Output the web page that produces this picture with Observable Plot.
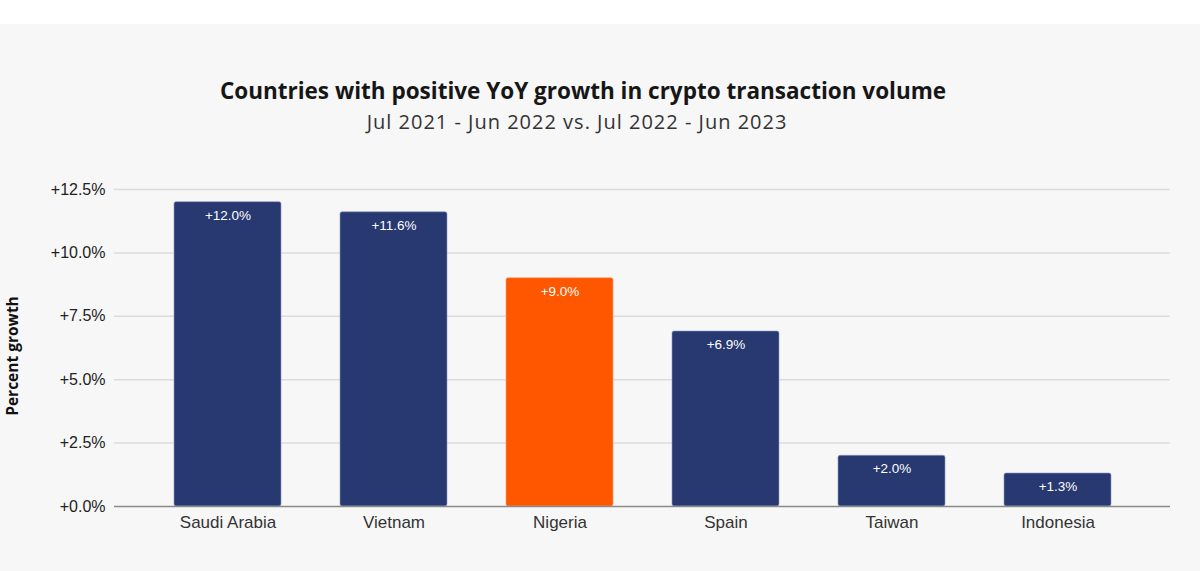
<!DOCTYPE html>
<html>
<head>
<meta charset="utf-8">
<script src="https://cdn.jsdelivr.net/npm/d3@7"></script>
<script src="https://cdn.jsdelivr.net/npm/@observablehq/plot@0.6"></script>
<style>
  html, body { margin: 0; padding: 0; background: #ffffff; }
  #top { height: 24px; background: #ffffff; }
  #panel { background: #f7f7f7; width: 1200px; height: 547px; position: relative; overflow: hidden; }
  #title { position: absolute; left: -17px; width: 1200px; top: 53px; text-align: center;
           font-family: "Open Sans", Lato, sans-serif; font-weight: 700; font-size: 22.5px; color: #161616; line-height: 28px; }
  #subtitle { position: absolute; left: -23px; width: 1200px; top: 85px; text-align: center;
           font-family: "Open Sans", Lato, sans-serif; font-weight: 400; font-size: 20px; letter-spacing: 1px; color: #333; line-height: 26px; }
  #chart { position: absolute; left: 0; top: 126px; }
</style>
</head>
<body>
<div id="top"></div>
<div id="panel">
  <div id="title">Countries with positive YoY growth in crypto transaction volume</div>
  <div id="subtitle">Jul 2021 - Jun 2022 vs. Jul 2022 - Jun 2023</div>
  <div id="chart"></div>
</div>
<script>
const countries = ["Saudi Arabia", "Vietnam", "Nigeria", "Spain", "Taiwan", "Indonesia"];
const growth = [12.0, 11.6, 9.0, 6.9, 2.0, 1.3];
const highlight = ["Nigeria"];
const yTicks = [0, 2.5, 5, 7.5, 10, 12.5];

const data = countries.map((c, i) => ({country: c, value: growth[i]}));
const fmt = v => "+" + v.toFixed(1) + "%";

const chart = Plot.plot({
  width: 1200,
  height: 400,
  marginLeft: 114,
  marginRight: 30,
  marginTop: 39,
  marginBottom: 44,
  style: {background: "transparent", fontFamily: "'Liberation Sans', Arial, sans-serif"},
  x: {domain: countries, padding: 0.357, label: null},
  y: {domain: [0, 12.5], label: null},
  marks: [
    Plot.gridY(yTicks.filter(d => d > 0), {stroke: "#dcdcdc", strokeOpacity: 1, strokeWidth: 1.5}),
    Plot.axisY({ticks: yTicks, tickSize: 0, tickPadding: 9, tickFormat: fmt, fontSize: 16, fill: "#222", label: null}),
    Plot.axisX({tickSize: 0, tickPadding: 9, fontSize: 17, fill: "#333", label: null}),
    Plot.barY(data, {x: "country", y: "value",
      fill: d => highlight.includes(d.country) ? "#ff5600" : "#283870",
      stroke: d => highlight.includes(d.country) ? "#ff9a66" : "#8a98c8", strokeWidth: 0.6,
      rx: 2}),
    Plot.ruleY([0], {stroke: "#8a8a8a", strokeWidth: 1.5}),
    Plot.text(data, {x: "country", y: "value", text: d => fmt(d.value), dy: 13,
      fill: "white", fontSize: 13.5, lineAnchor: "middle"}),
    Plot.text(["Percent growth"], {frameAnchor: "left", text: d => d, rotate: -90,
      textAnchor: "middle", lineAnchor: "middle",
      dx: -101, dy: 8, fontSize: 15.5, fontWeight: "bold", fill: "#111",
      fontFamily: "'Open Sans', sans-serif"})
  ]
});
document.getElementById("chart").appendChild(chart);
</script>
</body>
</html>
